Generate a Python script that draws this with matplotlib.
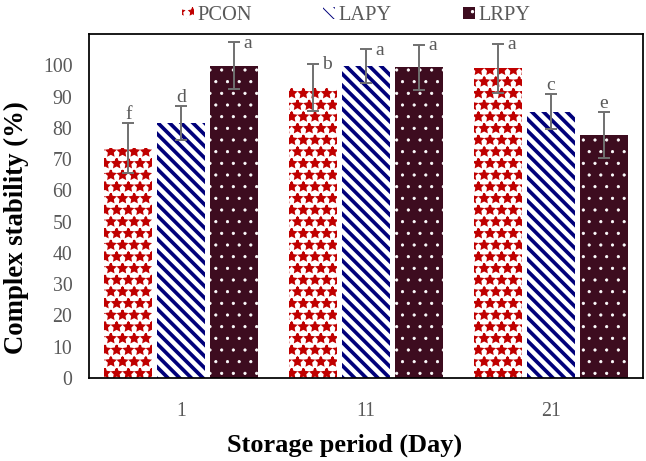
import matplotlib
matplotlib.use('Agg')
import matplotlib.pyplot as plt
import numpy as np

days = ['1', '11', '21']
series = ['PCON', 'LAPY', 'LRPY']
pcon = [73.5, 93.0, 99.0]
lapy = [81.5, 99.7, 85.2]
lrpy = [99.8, 99.3, 77.8]
pcon_err = [8.0, 7.5, 7.8]
lapy_err = [5.5, 5.4, 5.5]
lrpy_err = [7.5, 7.3, 7.4]
pcon_lbl = ['f', 'b', 'a']
lapy_lbl = ['d', 'a', 'c']
lrpy_lbl = ['a', 'a', 'e']

DPI = 70
plt.rcParams['font.family'] = ['Liberation Serif', 'DejaVu Serif']
fig = plt.figure(figsize=(646 / DPI, 461 / DPI), dpi=DPI)
ax = fig.add_axes([89 / 646, 1 - 378 / 461, (643 - 89) / 646, (378 - 34) / 461])

x = np.arange(len(days))
width = 0.26
step = 0.287
styles = [
    dict(facecolor='white', edgecolor='#c00000', hatch='*', hlw=2.2),
    dict(facecolor='white', edgecolor='#00007a', hatch='\\\\', hlw=3.8),
    dict(facecolor='#3d0c1f', edgecolor='white', hatch='.', hlw=0.8),
]
vals = [pcon, lapy, lrpy]
errs = [pcon_err, lapy_err, lrpy_err]
lbls = [pcon_lbl, lapy_lbl, lrpy_lbl]
gray = '#595959'
ymax = 110

for i, (v, e, lb, st) in enumerate(zip(vals, errs, lbls, styles)):
    plt.rcParams['hatch.linewidth'] = st['hlw']
    pos = x + (i - 1) * step
    bars = ax.bar(pos, v, width, facecolor=st['facecolor'], edgecolor=st['edgecolor'],
                  hatch=st['hatch'], linewidth=0, label=series[i], zorder=2)
    for b in bars:
        if hasattr(b, 'set_hatch_linewidth'):
            b.set_hatch_linewidth(st['hlw'])
    ax.errorbar(pos, v, yerr=e, fmt='none', ecolor='#707070', elinewidth=2.0,
                capsize=6, capthick=2.0, zorder=3)
    for p, val, er, t in zip(pos, v, e, lb):
        top = val + er
        if top + 5 > 104:
            ax.annotate(t, (p, top), xytext=(14, -1), textcoords='offset points',
                        ha='center', va='center', fontsize=20, color=gray)
        else:
            ax.annotate(t, (p, top), xytext=(0, 0), textcoords='offset points',
                        ha='center', va='bottom', fontsize=20, color=gray)

ax.set_xlim(-0.5, 2.5)
ax.set_ylim(0, ymax)
ax.set_yticks(np.arange(0, 101, 10))
ax.set_xticks(x)
ax.set_xticklabels(days)
ax.tick_params(axis='both', length=0, labelsize=20.5, labelcolor=gray)
ax.tick_params(axis='y', pad=17)
ax.tick_params(axis='x', pad=25)
for s in ax.spines.values():
    s.set_linewidth(1.8)
    s.set_color('black')
ax.set_ylabel('Complex stability (%)', fontsize=27.5, fontweight='bold')
ax.set_xlabel('Storage period (Day)', fontsize=27, fontweight='bold')
ax.yaxis.set_label_coords(-73 / 554, (378 - 228) / 344)
ax.xaxis.set_label_coords((345 - 89) / 554, -(445 - 378) / 344)
ax.xaxis.label.set_va('center')
ax.yaxis.label.set_va('center')

plt.rcParams['hatch.linewidth'] = 1.0
fig.legend(loc='center', bbox_to_anchor=(356 / 646, 1 - 16 / 461), ncol=3, frameon=False,
           fontsize=21, handlelength=0.6, handleheight=0.55, handletextpad=0.15,
           columnspacing=3.5, labelcolor=gray, borderaxespad=0, borderpad=0)

fig.savefig('out.png', dpi=DPI)
